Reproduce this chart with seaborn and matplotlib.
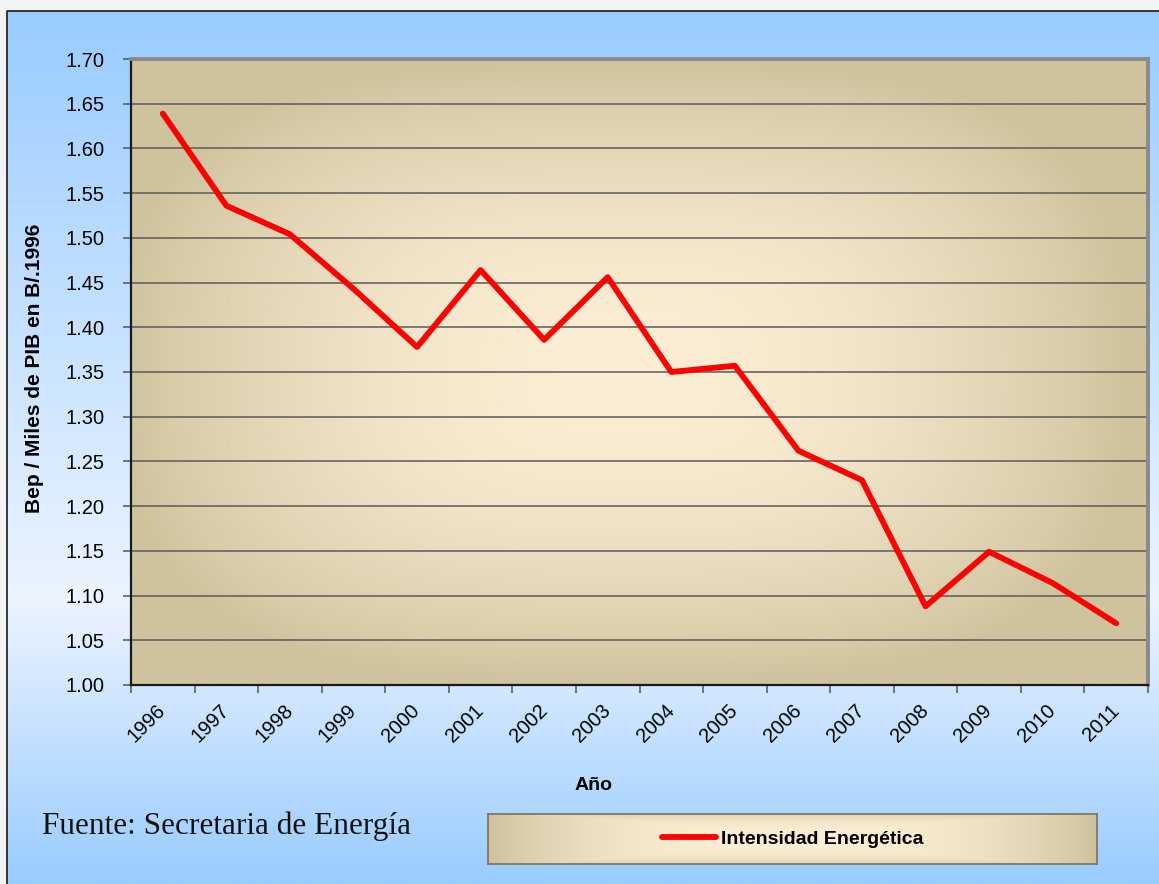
import numpy as np
import pandas as pd
import seaborn as sns
import matplotlib.pyplot as plt
from matplotlib.patches import Rectangle


# ----------------------------------------
# DATA
# ----------------------------------------

years = ["1996", "1997", "1998", "1999", "2000", "2001", "2002", "2003",
         "2004", "2005", "2006", "2007", "2008", "2009", "2010", "2011"]
intensidad = [1.639, 1.536, 1.504, 1.443, 1.378, 1.464, 1.386, 1.456,
              1.350, 1.357, 1.262, 1.229, 1.088, 1.149, 1.114, 1.069]
y_ticks = [1.00, 1.05, 1.10, 1.15, 1.20, 1.25, 1.30, 1.35,
           1.40, 1.45, 1.50, 1.55, 1.60, 1.65, 1.70]
series_name = "Intensidad Energética"

df = pd.DataFrame({"pos": np.arange(len(years)), "year": years,
                   "valor": intensidad})


# ----------------------------------------
# STYLE
# ----------------------------------------

sns.set_theme(style="white")
plt.rcParams["font.family"] = ["Liberation Sans", "DejaVu Sans"]
plt.rcParams["text.color"] = "black"
plt.rcParams["xtick.color"] = "black"
plt.rcParams["ytick.color"] = "black"
plt.rcParams["axes.labelcolor"] = "black"

W, H = 1159, 884
TAN = np.array([207, 195, 158]) / 255
CREAM = np.array([252, 238, 212]) / 255
BLUE = np.array([153, 204, 255]) / 255
PALE = np.array([236, 244, 255]) / 255

fig = plt.figure(figsize=(W / 100, H / 100), dpi=100)

# ----------------------------------------
# BACKGROUND (blue panel)
# ----------------------------------------

bg = fig.add_axes([0, 0, 1, 1])
bg.set_xlim(0, W)
bg.set_ylim(H, 0)
bg.axis("off")
bg.add_patch(Rectangle((0, 0), W, H, color="#f3f3f3", zorder=0))

rows = np.linspace(11, H, 400)
mix = np.where(rows < 600, (rows - 11) / (600 - 11), 1 - (rows - 600) / (H - 600))
mix = np.clip(mix, 0, 1)[:, None]
blue_img = (BLUE * (1 - mix) + PALE * mix)[:, None, :]
bg.imshow(blue_img, extent=(7, W, H, 11), aspect="auto", zorder=1)
bg.plot([7, 7, W], [H, 11, 11], color="#2a2a2a", lw=1.3, zorder=2)
bg.set_xlim(0, W)
bg.set_ylim(H, 0)

# ----------------------------------------
# MAIN PLOT
# ----------------------------------------

ax = fig.add_axes([131 / W, 1 - 685 / H, 1017 / W, 626 / H])

gx = np.linspace(-1, 1, 400)
gy = np.linspace(-1, 1, 300)
GX, GY = np.meshgrid(gx, gy)
GX = GX + 0.03
t = np.clip((np.abs(GX) ** 3 + np.abs(GY) ** 3) ** (1 / 3), 0, 1) ** 1.9
plot_img = CREAM * (1 - t[..., None]) + TAN * t[..., None]
ax.imshow(plot_img, extent=(-0.5, 15.5, 1.0, 1.7), aspect="auto",
          origin="upper", zorder=0)

sns.lineplot(data=df, x="pos", y="valor", ax=ax, color="#ff0000",
             lw=4.2, label=series_name, legend=False, zorder=3,
             solid_capstyle="round", solid_joinstyle="round")

ax.set_xlim(-0.5, 15.5)
ax.set_ylim(1.0, 1.7)

# y axis
ax.set_yticks(y_ticks)
ax.set_yticklabels([f"{v:.2f}" for v in y_ticks], fontsize=14.5)
ax.yaxis.grid(True, color="#5a5a5a", lw=1.1)
ax.set_axisbelow(True)
ax.tick_params(axis="y", length=6, width=1.1, color="#555555", pad=13, left=True)

# x axis: ticks between categories, labels at centers
ax.set_xticks(np.arange(-0.5, len(years)))
ax.set_xticklabels([])
ax.set_xticks(df["pos"], minor=True)
ax.set_xticklabels(years, minor=True, rotation=45, ha="right", va="center",
                   rotation_mode="anchor", fontsize=14.5)
ax.tick_params(axis="x", which="major", length=6, width=1.1, color="#555555",
               bottom=True)
ax.tick_params(axis="x", which="minor", length=0, pad=16)
ax.xaxis.grid(False)

ax.set_xlabel("Año", fontsize=14, fontweight="bold")
ax.xaxis.set_label_coords((594 - 131) / 1017, -(786 - 685) / 626)
ax.xaxis.label.set_va("center")
ax.set_ylabel("Bep / Miles de PIB en B/.1996", fontsize=15,
              fontweight="bold")
ax.yaxis.set_label_coords(-(131 - 35) / 1017, (685 - 368) / 626)
ax.yaxis.label.set_va("center")

for side in ["left", "bottom"]:
    ax.spines[side].set_color("#1a1a1a")
    ax.spines[side].set_linewidth(1.6)
for side in ["top", "right"]:
    ax.spines[side].set_color("#8a8a8a")
    ax.spines[side].set_linewidth(2.8)

# ----------------------------------------
# SOURCE TEXT
# ----------------------------------------

fig.text(42 / W, 1 - 826 / H, "Fuente: Secretaria de Energía",
         fontsize=22.5, family=["Liberation Serif", "DejaVu Serif"],
         va="center", ha="left", color="#111111")

# ----------------------------------------
# LEGEND BOX
# ----------------------------------------

lax = fig.add_axes([488 / W, 1 - 864 / H, 609 / W, 50 / H])
lx = np.linspace(-1, 1, 400)
ly = np.linspace(-1, 1, 60)
LX, LY = np.meshgrid(lx, ly)
lt = np.clip(np.maximum(np.abs(LX) ** 2.5, 0.6 * np.abs(LY) ** 3), 0, 1)
leg_img = CREAM * (1 - lt[..., None]) + TAN * lt[..., None]
lax.imshow(leg_img, extent=(0, 1, 0, 1), aspect="auto")
lax.set_xlim(0, 1)
lax.set_ylim(0, 1)
lax.set_xticks([])
lax.set_yticks([])
for s in lax.spines.values():
    s.set_color("#7a7060")
    s.set_linewidth(1.2)

handles, labels = ax.get_legend_handles_labels()
leg = lax.legend(handles, labels, loc="center", frameon=False,
                 handlelength=2.8, handletextpad=0.25,
                 prop={"weight": "bold", "size": 14})
for txt in leg.get_texts():
    txt.set_color("black")

fig.savefig("out.png", dpi=100)
